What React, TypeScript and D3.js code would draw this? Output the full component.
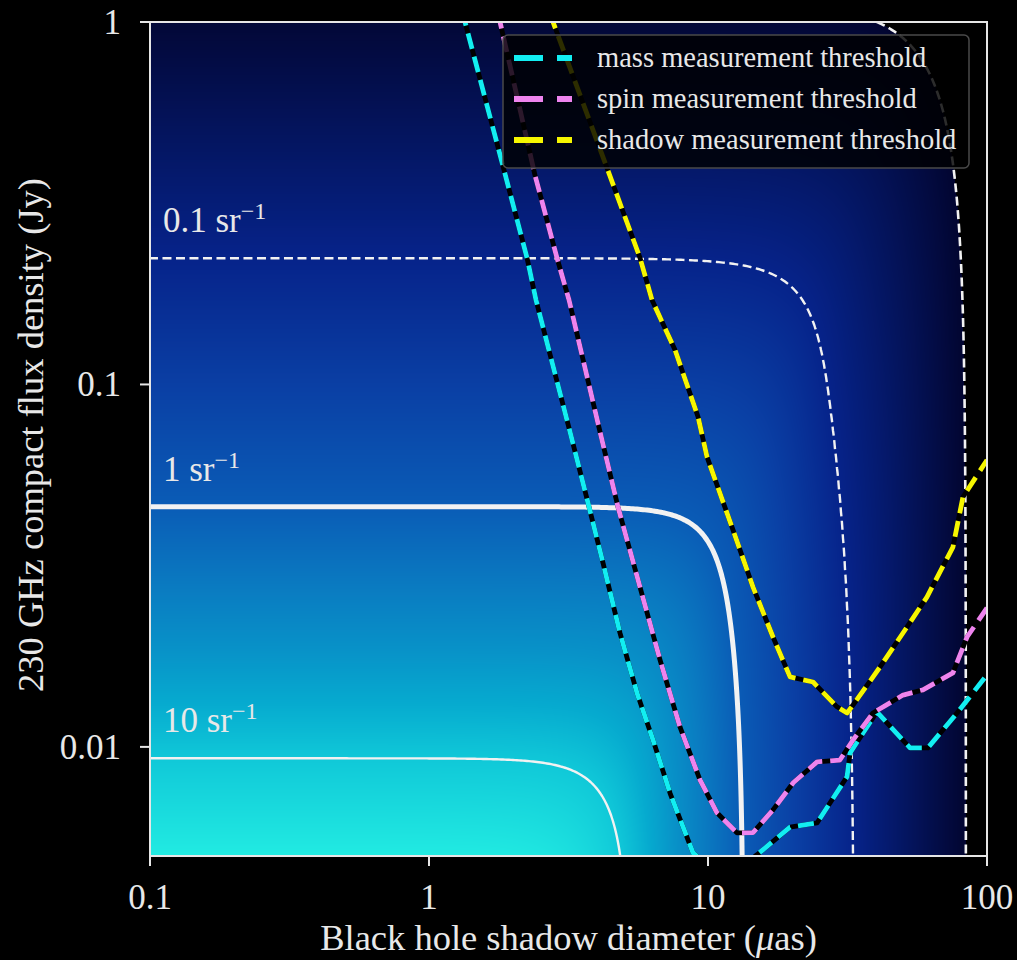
import React, { useEffect, useMemo } from 'react';
import * as d3 from 'd3';

const WIDTH = 1017;
const HEIGHT = 960;
const PLOT = { left: 150, right: 987, top: 22, bottom: 856 };

// Axis ticks
const xTicks = [0.1, 1, 10, 100];
const xTickLabels = ['0.1', '1', '10', '100'];
const yTicks = [0.01, 0.1, 1];
const yTickLabels = ['0.01', '0.1', '1'];

// Source counts per steradian: contour levels, the flux at which each level runs flat,
// the shadow diameter at which it turns vertical, and how tightly each level hugs
// its flat (horizontal) and its steep (vertical) asymptote.
const densityLevels = [0.01, 0.1, 1, 10];
const plateauFlux = [1.13, 0.223, 0.046, 0.0093];
const cutoffDiameter = [84, 33.5, 13.4, 5.2];
const horizontalSharpness = [1.0, 1.15, 1.6, 1.6];
const verticalSharpness = [1.0, 0.7, 1.1, 1.6];
const levelLabels = ['', '0.1', '1', '10'];

// Colour ramp for log10(density)
const colorStopsLog = [-2, -1, -0.47, 0, 0.29, 0.57, 0.78, 1, 1.4];
const colorStops = ['#020530', '#06238a', '#0a40a5', '#0a5cb6', '#0a78c0', '#0892c8', '#06aacf', '#10c8d8', '#22ece2'];

// Measurement thresholds: [shadow diameter (μas), flux density (Jy)]
const massThreshold: [number, number][] = [
  [1.33, 1.08], [1.346, 1.0], [1.797, 0.43], [2.246, 0.2234], [2.418, 0.171], [3.202, 0.074],
  [3.715, 0.0471], [4.204, 0.0322], [4.838, 0.0206], [5.566, 0.01409], [6.354, 0.01045],
  [7.309, 0.00746], [8.837, 0.0051], [11.5, 0.0043], [14.98, 0.00504], [19.68, 0.00601],
  [24.6, 0.00617], [31.5, 0.00827], [32.3, 0.00963], [40.3, 0.01249], [52.97, 0.00994],
  [61.4, 0.00994], [78.1, 0.0124], [100, 0.0158],
];
const spinThreshold: [number, number][] = [
  [1.78, 1.06], [1.797, 1.0], [2.398, 0.378], [2.876, 0.2234], [3.176, 0.171], [4.102, 0.074],
  [4.758, 0.0459], [5.706, 0.0276], [6.73, 0.01738], [7.935, 0.01135], [9.36, 0.00811],
  [10.77, 0.00658], [12.7, 0.00579], [14.5, 0.0058], [17.1, 0.0067], [20.2, 0.00796],
  [24.6, 0.00909], [29.7, 0.0092], [33.1, 0.01045], [39.0, 0.0124], [50.0, 0.0139],
  [58.96, 0.01437], [75.5, 0.016], [84.8, 0.0201], [100, 0.02417],
];
const shadowThreshold: [number, number][] = [
  [2.76, 1.06], [2.783, 1.0], [4.345, 0.3956], [5.706, 0.2234], [6.3, 0.171], [7.62, 0.1245],
  [9.21, 0.0814], [9.92, 0.0631], [12.29, 0.0397], [14.5, 0.0276], [17.1, 0.0201],
  [19.68, 0.0156], [23.8, 0.0151], [29.0, 0.0129], [31.5, 0.0124], [33.1, 0.01305],
  [41.4, 0.01663], [51.7, 0.02143], [60.9, 0.0259], [75.5, 0.0356], [82.0, 0.0489], [100, 0.0619],
];

const seriesNames = ['mass measurement threshold', 'spin measurement threshold', 'shadow measurement threshold'];
const seriesColors = ['#12eef2', '#ee84ee', '#f6f600'];
const seriesData = [massThreshold, spinThreshold, shadowThreshold];

const FONT = '"Liberation Serif", "DejaVu Serif", "Times New Roman", serif';
const TEXT = '#e8e8e8';

const x = d3.scaleLog().domain([0.1, 100]).range([PLOT.left, PLOT.right]);
const y = d3.scaleLog().domain([0.005, 1]).range([PLOT.bottom, PLOT.top]);

const logLevels = densityLevels.map(Math.log10);
const fluxScale = d3.scaleLinear().domain(plateauFlux.map(Math.log10)).range(logLevels);
const diamScale = d3.scaleLinear().domain(cutoffDiameter.map(Math.log10)).range(logLevels);
const hSharp = d3.scaleLinear().domain(logLevels).range(horizontalSharpness).clamp(true);
const vSharp = d3.scaleLinear().domain(logLevels).range(verticalSharpness).clamp(true);
const colorScale = d3.scaleLinear<string>()
  .domain(colorStopsLog)
  .range(colorStops)
  .interpolate(d3.interpolateRgb)
  .clamp(true);

// log10 of the number of sources brighter than S with a shadow larger than D:
// a smooth minimum of the flux-limited and the size-limited counts.
function logDensity(D: number, S: number): number {
  const ls = fluxScale(Math.log10(S));
  const ld = diamScale(Math.log10(D));
  const side = 1 / (1 + Math.exp(-(ld - ls) / 0.3));
  const combine = (p: number) => -Math.log10(Math.pow(10, -p * ls) + Math.pow(10, -p * ld)) / p;
  const sharp = (v: number) => vSharp(v) + (hSharp(v) - vSharp(v)) * side;
  let v = combine(1);
  for (let k = 0; k < 3; k++) v = combine(sharp(v));
  return v;
}

const minLog = logLevels[0];

function buildFieldImage(): string {
  const w = Math.round(PLOT.right - PLOT.left);
  const h = Math.round(PLOT.bottom - PLOT.top);
  const canvas = document.createElement('canvas');
  canvas.width = w;
  canvas.height = h;
  const ctx = canvas.getContext('2d');
  if (!ctx) return '';
  const img = ctx.createImageData(w, h);
  for (let j = 0; j < h; j++) {
    const S = y.invert(PLOT.top + j + 0.5);
    for (let i = 0; i < w; i++) {
      const D = x.invert(PLOT.left + i + 0.5);
      const v = logDensity(D, S);
      const k = (j * w + i) * 4;
      img.data[k + 3] = 255;
      if (v < minLog) continue;
      const c = d3.rgb(colorScale(v));
      img.data[k] = c.r; img.data[k + 1] = c.g; img.data[k + 2] = c.b;
    }
  }
  ctx.putImageData(img, 0, 0);
  return canvas.toDataURL();
}

const STEP = 2;
const PAD = 12;

function buildContours() {
  const gx0 = PLOT.left - PAD;
  const gy0 = PLOT.top - PAD;
  const nx = Math.ceil((PLOT.right - PLOT.left + 2 * PAD) / STEP);
  const ny = Math.ceil((PLOT.bottom - PLOT.top + 2 * PAD) / STEP);
  const values = new Array(nx * ny);
  for (let j = 0; j < ny; j++) {
    const S = y.invert(gy0 + (j + 0.5) * STEP);
    for (let i = 0; i < nx; i++) {
      const D = x.invert(gx0 + (i + 0.5) * STEP);
      values[j * nx + i] = logDensity(D, S);
    }
  }
  const gen = d3.contours().size([nx, ny]).thresholds(logLevels);
  const polys = gen(values);
  const path = d3.geoPath(d3.geoTransform({
    point(px: number, py: number) {
      (this as any).stream.point(gx0 + px * STEP, gy0 + py * STEP);
    },
  }));
  return polys.map((p) => path(p as any) || '');
}

const contourStyles = [
  { width: 2.6, dash: '9 4.5' },
  { width: 2.4, dash: '9 4.5' },
  { width: 5, dash: '' },
  { width: 2.4, dash: '' },
];

export default function App() {
  useEffect(() => {
    document.body.style.margin = '0';
    document.body.style.background = '#000';
  }, []);

  const fieldUrl = useMemo(() => buildFieldImage(), []);
  const contourPaths = useMemo(() => buildContours(), []);
  const line = d3.line<[number, number]>().x((d) => x(d[0])).y((d) => y(d[1]));

  const legend = { x: 503, y: 35, w: 466, h: 133 };
  const rowY = [58, 99, 140];

  return (
    <svg width={WIDTH} height={HEIGHT} style={{ display: 'block', background: '#000' }} fontFamily={FONT}>
      <defs>
        <clipPath id="plot-area">
          <rect x={PLOT.left} y={PLOT.top} width={PLOT.right - PLOT.left} height={PLOT.bottom - PLOT.top} />
        </clipPath>
      </defs>
      <rect x={0} y={0} width={WIDTH} height={HEIGHT} fill="#000" />

      <image href={fieldUrl} x={PLOT.left} y={PLOT.top}
        width={Math.round(PLOT.right - PLOT.left)} height={Math.round(PLOT.bottom - PLOT.top)}
        preserveAspectRatio="none" />

      <g clipPath="url(#plot-area)">
        {contourPaths.map((d, i) => (
          <path key={`c${i}`} d={d} fill="none" stroke="#f2f2f2"
            strokeWidth={contourStyles[i].width}
            strokeDasharray={contourStyles[i].dash || undefined} />
        ))}
        {seriesData.map((data, i) => (
          <g key={`s${i}`}>
            <path d={line(data) || ''} fill="none" stroke="#000" strokeWidth={4.8} strokeLinejoin="round" />
            <path d={line(data) || ''} fill="none" stroke={seriesColors[i]} strokeWidth={4.8}
              strokeDasharray="16 8" strokeLinejoin="round" />
          </g>
        ))}
      </g>

      {densityLevels.map((lv, i) => levelLabels[i] ? (
        <text key={`l${i}`} x={PLOT.left + 13} y={y(plateauFlux[i]) - 26} fill={TEXT} fontSize={35}>
          {`${levelLabels[i]} sr`}
          <tspan fontSize={24} dy={-13}>−1</tspan>
        </text>
      ) : null)}

      {/* legend */}
      <rect x={legend.x} y={legend.y} width={legend.w} height={legend.h} rx={5}
        fill="rgba(0,0,0,0.82)" stroke="#4a4a4a" strokeWidth={1.5} />
      {seriesNames.map((name, i) => (
        <g key={`g${i}`}>
          <line x1={514} x2={572} y1={rowY[i]} y2={rowY[i]} stroke={seriesColors[i]}
            strokeWidth={6} strokeDasharray="29 14" />
          <text x={597} y={rowY[i] + 9} fill={TEXT} fontSize={28.5}>{name}</text>
        </g>
      ))}

      {/* frame and ticks */}
      <rect x={PLOT.left} y={PLOT.top} width={PLOT.right - PLOT.left} height={PLOT.bottom - PLOT.top}
        fill="none" stroke="#e6e6e6" strokeWidth={2} />
      {xTicks.map((t, i) => (
        <g key={`xt${i}`}>
          <line x1={x(t)} x2={x(t)} y1={PLOT.bottom} y2={PLOT.bottom + 10} stroke="#e6e6e6" strokeWidth={2} />
          <text x={x(t)} y={909} textAnchor="middle" fill={TEXT} fontSize={35}>{xTickLabels[i]}</text>
        </g>
      ))}
      {yTicks.map((t, i) => (
        <g key={`yt${i}`}>
          <line x1={PLOT.left - 10} x2={PLOT.left} y1={y(t)} y2={y(t)} stroke="#e6e6e6" strokeWidth={2} />
          <text x={121} y={y(t) + 12} textAnchor="end" fill={TEXT} fontSize={35}>{yTickLabels[i]}</text>
        </g>
      ))}

      <text x={(PLOT.left + PLOT.right) / 2} y={950} textAnchor="middle" fill={TEXT} fontSize={36.5}>
        Black hole shadow diameter (<tspan fontStyle="italic">μ</tspan>as)
      </text>
      <text transform={`translate(43, 435) rotate(-90)`} textAnchor="middle"
        fill={TEXT} fontSize={36.5}>
        230 GHz compact flux density (Jy)
      </text>
    </svg>
  );
}
